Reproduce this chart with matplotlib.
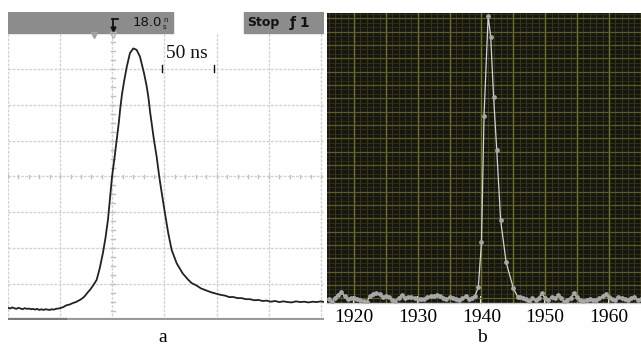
import numpy as np
import matplotlib.pyplot as plt
from matplotlib.patches import Rectangle

# ----------------- DATA -----------------
# panel a: oscilloscope trace, time in ns, amplitude in screen divisions
trace_t = [0, 2, 4, 6, 8, 10, 12, 14, 16, 18, 20, 22, 24, 26, 28, 30, 32, 34, 36, 38,
           40, 42, 44, 46, 48, 50, 53, 56, 59, 62, 65, 69, 72, 74, 76.7, 78.6, 82, 85,
           88, 91, 93.5, 95.8, 97.8, 99.7, 102, 104.2, 106.4, 107.6, 109.3, 111.2, 113.8,
           116.9, 120.1, 123.3, 126.5, 130.3, 132.9, 134.6, 136.2, 139.9, 142.5, 145, 147.9,
           150.5, 153.6, 156.9, 161.7, 167.4, 172.8, 176, 180.8, 185, 190.4, 195, 200,
           204, 208, 212, 216, 220, 224, 228, 232, 236, 240, 244, 248, 252, 256, 260,
           264, 268, 272, 276, 280, 284, 288, 292, 296, 300, 303]
trace_v = [0.34, 0.32, 0.35, 0.33, 0.31, 0.34, 0.32, 0.30, 0.33, 0.31, 0.32, 0.30, 0.31,
           0.29, 0.31, 0.28, 0.30, 0.28, 0.30, 0.29, 0.28, 0.30, 0.29, 0.31, 0.32, 0.33,
           0.36, 0.41, 0.43, 0.47, 0.50, 0.56, 0.62, 0.68, 0.78, 0.84, 0.98, 1.12, 1.45,
           1.87, 2.30, 2.79, 3.40, 3.99, 4.50, 5.02, 5.55, 5.90, 6.30, 6.64, 7.05, 7.44,
           7.57, 7.53, 7.34, 6.89, 6.52, 6.20, 5.80, 5.02, 4.55, 3.99, 3.44, 2.97, 2.42,
           1.95, 1.58, 1.30, 1.12, 1.03, 0.96, 0.88, 0.82, 0.77, 0.73, 0.70, 0.68, 0.64,
           0.64, 0.61, 0.61, 0.58, 0.58, 0.55, 0.56, 0.53, 0.54, 0.51, 0.53, 0.50, 0.52,
           0.50, 0.49, 0.52, 0.50, 0.51, 0.49, 0.51, 0.50, 0.52, 0.50]

# panel b: spectrum, wavelength (nm) vs intensity (a.u.)
base_left = [-0.5, -2.5, 0.5, 2.5, 5.0, 1.5, -0.8, 0.2, 0.0, -0.8, -1.0, -1.8, -2.5, 1.8,
             3.2, 3.7, 3.0, 0.7, 1.5, 1.0, -1.0, -1.8, 0.5, 2.5, 0.0, 1.0, 1.2, 0.0, -0.8,
             -0.5, -0.8, 0.8, 1.7, 2.0, 2.6, 1.7, 0.5, -0.8, 1.2, 0.2, -0.5, -1.0, 0.0,
             1.5, -0.5, 0.0, 2.0]
peak_wl = [1939.5, 1940.0, 1940.4, 1941.05, 1941.45, 1941.9, 1942.4, 1943.0, 1943.85,
           1945.0, 1945.7, 1946.0]
peak_i = [8.3, 42, 137, 212, 196, 151, 111, 59, 27.5, 7.5, 1.0, 1.2]
base_right = [0.5, -0.5, -1.8, 0.0, -1.0, 0.5, 3.7, 0.0, -1.3, 1.2, 0.0, 2.5, 0.5, -2.5,
              -1.3, 0.5, 3.7, 1.0, -1.3, -1.8, -1.0, -0.8, -1.3, -1.0, 0.0, 1.5, 3.2,
              1.2, -0.5, -1.3, 1.2, 0.5, -0.8, -1.3, 0.0, 0.8, -1.3, -0.8]
wl_ticks = [1920, 1930, 1940, 1950, 1960]

wl = np.concatenate([np.arange(1916, 1939.01, 0.5), peak_wl, np.arange(1946.5, 1965.01, 0.5)])
inten = np.concatenate([base_left, peak_i, base_right])

serif = ['Liberation Serif', 'DejaVu Serif']

fig = plt.figure(figsize=(6.41, 3.46), dpi=100)
W, H = 641, 346

def box(x0, y0, x1, y1):
    # pixel box -> figure fraction
    return [x0 / W, 1 - y1 / H, (x1 - x0) / W, (y1 - y0) / H]

# ----------------- PANEL A -----------------
ax = fig.add_axes(box(8, 12, 324, 320))
ax.set_xlim(0, 302.9)
ax.set_ylim(0, 8.585)
ax.axis('off')

for gx in range(0, 301, 50):
    ax.plot([gx, gx], [0, 8], color='#d2d2d2', lw=1, ls=(0, (2, 1)), zorder=1)
for gy in range(1, 8):
    ax.plot([0, 302.9], [gy, gy], color='#d2d2d2', lw=1, ls=(0, (2, 1)), zorder=1)

# centre-line minor ticks
for tx in np.arange(0, 301, 10):
    ax.plot([tx, tx], [3.95, 4.05], color='#c0c0c0', lw=1, zorder=1)
for ty in np.arange(0, 8.01, 0.25):
    ax.plot([98.6, 102.6], [ty, ty], color='#c0c0c0', lw=1, zorder=1)

# bottom bar
ax.plot([0, 302.9], [0, 0], color='#9a9a9a', lw=3, solid_capstyle='butt', zorder=2)
ax.plot([0, 56.5], [0, 0], color='#7a7a7a', lw=3, solid_capstyle='butt', zorder=2)

# header
ax.add_patch(Rectangle((0, 8.0), 158, 0.585, color='#8c8c8c', zorder=3))
ax.add_patch(Rectangle((226, 8.0), 76.9, 0.585, color='#8c8c8c', zorder=3))
ax.text(119.5, 8.29, '18.0', fontsize=9.5, color='#111111', va='center', ha='left', zorder=4)
ax.text(148.5, 8.36, 'n', fontsize=5, color='#111111', va='center', ha='left', zorder=4)
ax.text(148.5, 8.17, 's', fontsize=5, color='#111111', va='center', ha='left', zorder=4)
ax.plot([99.6, 105], [8.4, 8.4], color='#111111', lw=1.3, zorder=4)
ax.plot([100.6, 100.6], [8.4, 8.12], color='#111111', lw=1.3, zorder=4)
ax.plot([100.6], [8.1], marker='v', ms=3.5, color='#111111', zorder=4)
ax.text(229.5, 8.29, 'Stop', fontsize=9, fontweight='bold', color='#111111',
        va='center', ha='left', zorder=4)
ax.text(270, 8.29, 'ƒ 1', fontsize=10, fontweight='bold', color='#111111',
        va='center', ha='left', zorder=4)
ax.plot([82.4], [7.93], marker='v', ms=5, color='#a0a0a0', zorder=4)
ax.plot([100.6], [7.93], marker='v', ms=4, mfc='none', mec='#b0b0b0', zorder=4)

# scale bar
ax.plot([147.6, 147.6], [6.92, 7.1], color='#111111', lw=1, zorder=4)
ax.plot([197.4, 197.4], [6.92, 7.1], color='#111111', lw=1, zorder=4)
ax.text(151, 7.42, '50 ns', fontsize=14, family=serif, color='#111111',
        va='center', ha='left', zorder=4)

ax.plot(trace_t, trace_v, color='#222222', lw=1.3, zorder=5)

# ----------------- PANEL B -----------------
bx = fig.add_axes(box(327, 13, 641, 303))
bx.set_facecolor('#16160f')
bx.set_xlim(1915.75, 1965.04)
bx.set_ylim(-3.5, 214)

for gx in np.arange(1916, 1966, 1):
    bx.axvline(gx, color='#35351e', lw=0.8, zorder=1)
for gy in np.arange(-10 / 3, 214, 10 / 3):
    bx.axhline(gy, color='#2e2e1b', lw=0.7, zorder=1)
for gx in np.arange(1920, 1966, 5):
    bx.axvline(gx, color='#727230', lw=1, zorder=2)
for gy in np.arange(0, 214, 10):
    bx.axhline(gy, color='#5c5c27', lw=0.9, zorder=2)

bx.plot(wl, inten, color='#d4d4d4', lw=0.9, marker='o', ms=2.4,
        mfc='#a8a8a8', mec='#a8a8a8', zorder=5)

bx.set_xticks(wl_ticks)
bx.set_xticklabels([str(t) for t in wl_ticks], fontsize=14, family=serif)
bx.tick_params(axis='x', direction='in', length=5, width=1.5, color='white', pad=4)
bx.set_yticks([])
for s in ['top', 'left', 'right']:
    bx.spines[s].set_visible(False)
bx.spines['bottom'].set_color('#c8c8c8')
bx.spines['bottom'].set_linewidth(1)

fig.text(163 / W, 1 - 338 / H, 'a', fontsize=14, family=serif, ha='center', va='center')
fig.text(482 / W, 1 - 338 / H, 'b', fontsize=14, family=serif, ha='center', va='center')

fig.savefig('out.png', dpi=100)
